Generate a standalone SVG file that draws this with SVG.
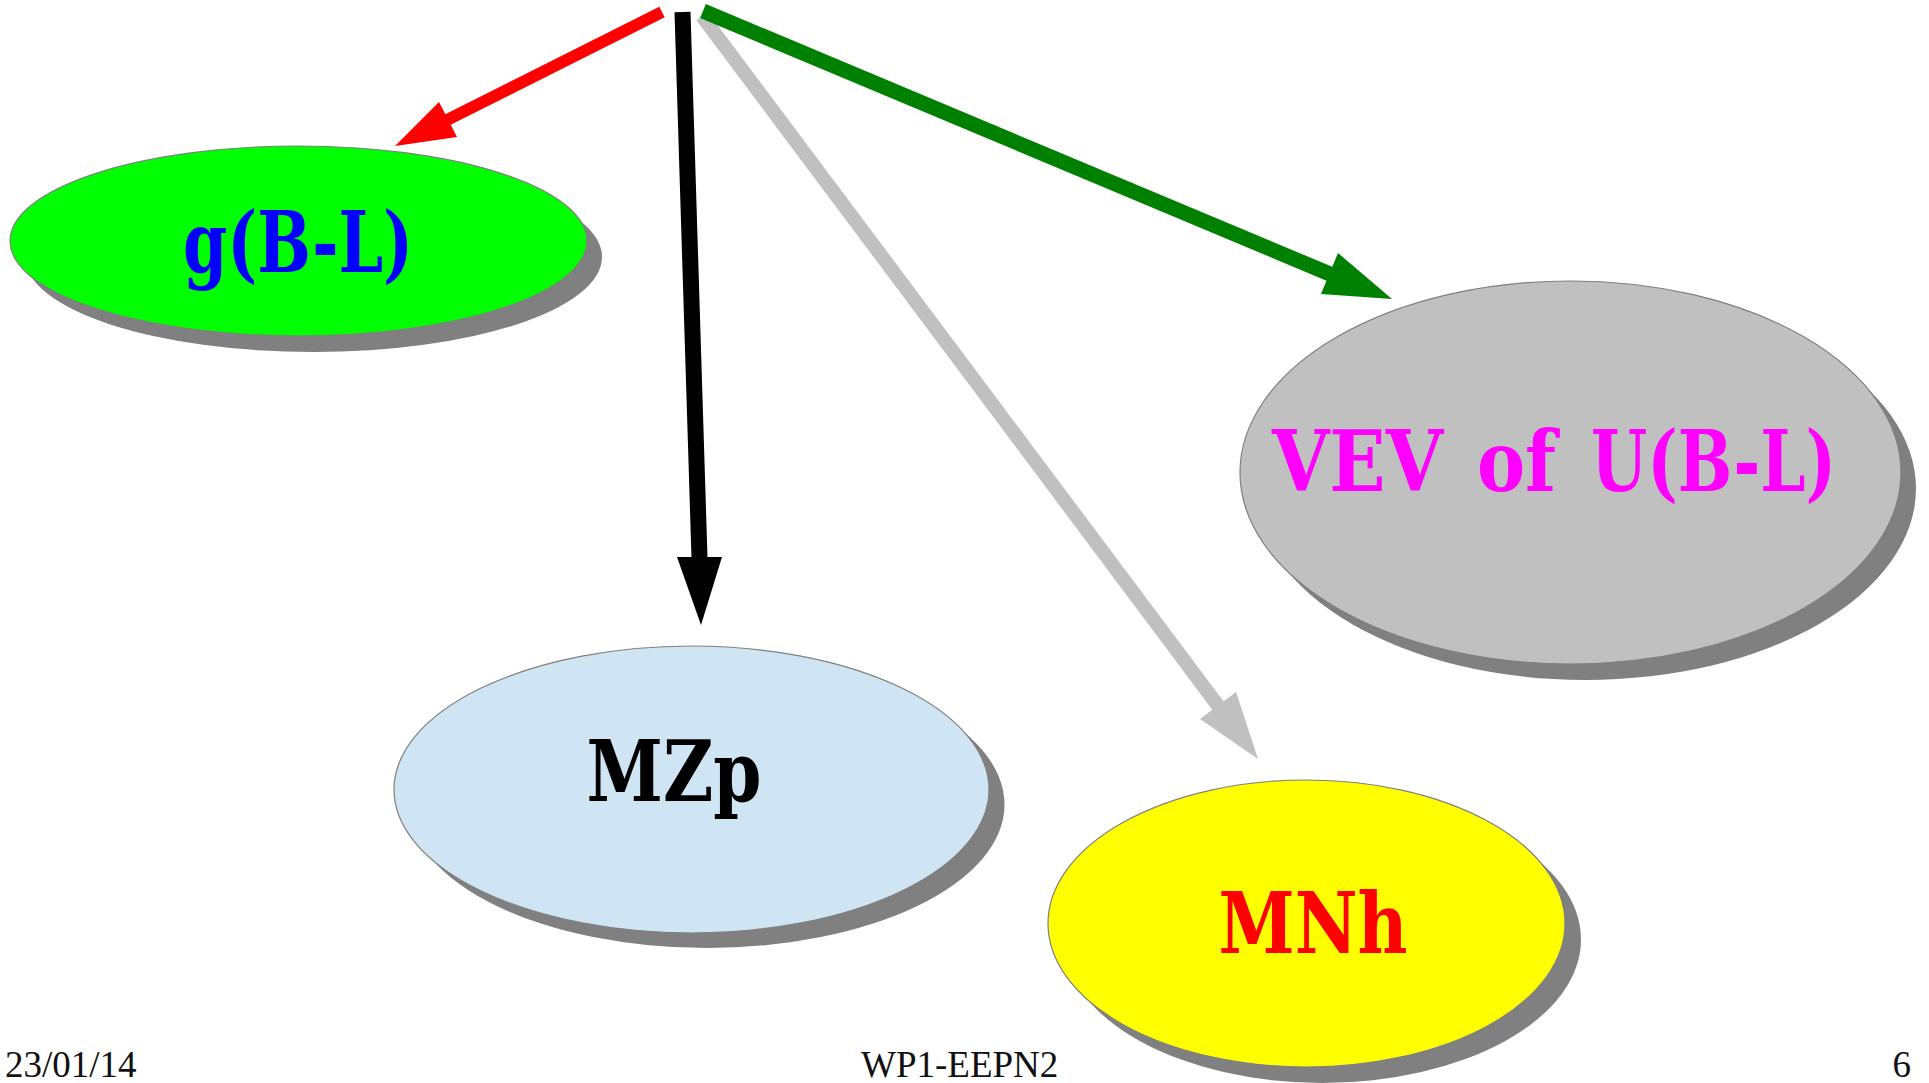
<svg xmlns="http://www.w3.org/2000/svg" width="1929" height="1083" viewBox="0 0 1929 1083">
  <style>
    .shadow { fill: #808080; }
    .node { stroke: #7f7f7f; stroke-width: 1.2; }
    .label { font-family: "DejaVu Serif Condensed", "DejaVu Serif", "Liberation Serif", serif; font-weight: bold; font-size: 84px; text-anchor: middle; }
    .foot { font-family: "Liberation Serif", "Times New Roman", serif; font-size: 37px; fill: #111; }
    .shaft { fill: none; stroke-linecap: butt; }
  </style>

  <rect width="1929" height="1083" fill="#ffffff"/>

  <!-- connectors from the common origin at the top -->
  <g id="connectors">
    <g id="edge-mnh">
      <line class="shaft" x1="702" y1="16" x2="1219" y2="707" stroke="#c0c0c0" stroke-width="14"/>
      <polygon points="1258,759 1236,692 1200,719" fill="#c0c0c0"/>
    </g>
    <g id="edge-mzp">
      <line class="shaft" x1="682.5" y1="12" x2="699.5" y2="558" stroke="#000000" stroke-width="16"/>
      <polygon points="701,625 677,557 722,557" fill="#000000"/>
    </g>
    <g id="edge-gbl">
      <line class="shaft" x1="662" y1="12" x2="447" y2="120" stroke="#ff0000" stroke-width="12"/>
      <polygon points="395,146 439,102 457,137" fill="#ff0000"/>
    </g>
    <g id="edge-vev">
      <line class="shaft" x1="703" y1="11" x2="1330" y2="274" stroke="#008000" stroke-width="15"/>
      <polygon points="1392,299 1338,253 1321,294" fill="#008000"/>
    </g>
  </g>

  <!-- nodes: drop shadow, ellipse, label -->
  <g id="node-gbl">
    <ellipse class="shadow" cx="313.5" cy="257" rx="288.5" ry="95"/>
    <ellipse class="node" cx="298.5" cy="241" rx="288.5" ry="95" fill="#00ff00"/>
    <text class="label" x="298" y="272" fill="#0000ff" textLength="230" lengthAdjust="spacingAndGlyphs">g(B-L)</text>
  </g>

  <g id="node-vev">
    <ellipse class="shadow" cx="1585.5" cy="488.5" rx="330.5" ry="191.5"/>
    <ellipse class="node" cx="1570.5" cy="472.5" rx="330.5" ry="191.5" fill="#c0c0c0"/>
    <text class="label" y="491" fill="#ff00ff" style="text-anchor:start"><tspan x="1272" textLength="171" lengthAdjust="spacingAndGlyphs">VEV</tspan> <tspan x="1477" textLength="79" lengthAdjust="spacingAndGlyphs">of</tspan> <tspan x="1591" textLength="245" lengthAdjust="spacingAndGlyphs">U(B-L)</tspan></text>
  </g>

  <g id="node-mzp">
    <ellipse class="shadow" cx="707" cy="804.5" rx="297.5" ry="143.5"/>
    <ellipse class="node" cx="691.5" cy="789.5" rx="297.5" ry="143.5" fill="#cfe5f3"/>
    <text class="label" x="674" y="801" fill="#000000" textLength="175" lengthAdjust="spacingAndGlyphs">MZp</text>
  </g>

  <g id="node-mnh">
    <ellipse class="shadow" cx="1322.5" cy="939.5" rx="258.5" ry="143.5"/>
    <ellipse class="node" cx="1306.5" cy="923.5" rx="258.5" ry="143.5" fill="#ffff00"/>
    <text class="label" x="1313" y="953" fill="#ff0000" textLength="189" lengthAdjust="spacingAndGlyphs">MNh</text>
  </g>

  <!-- slide footer -->
  <g id="footer">
    <text class="foot" x="5" y="1077">23/01/14</text>
    <text class="foot" x="861" y="1077">WP1-EEPN2</text>
    <text class="foot" x="1911" y="1077" text-anchor="end">6</text>
  </g>
</svg>
